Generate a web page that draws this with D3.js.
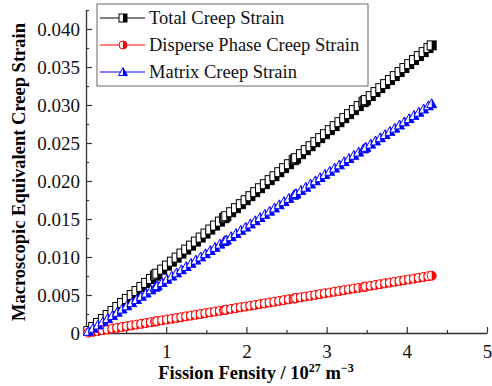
<!DOCTYPE html>
<html>
<head>
<meta charset="utf-8">
<script src="https://cdn.jsdelivr.net/npm/d3@7"></script>
<style>
  body { margin: 0; background: #fff; }
</style>
</head>
<body>
<div id="chart"></div>
<script>
// Fission density (10^27 m^-3)
var fissionDensity = [0.03,0.09,0.15,0.21,0.27,0.33,0.39,0.45,0.51,0.57,0.63,0.69,0.75,0.81,0.86,0.875,0.89,
    0.95,1.01,1.07,1.13,1.19,1.25,1.31,1.37,1.43,1.49,1.55,1.61,1.67,1.72,1.735,1.75,
    1.81,1.87,1.93,1.99,2.05,2.11,2.17,2.23,2.29,2.35,2.41,2.47,2.53,2.59,2.605,2.62,
    2.68,2.74,2.80,2.86,2.92,2.98,3.04,3.10,3.16,3.22,3.28,3.34,3.40,3.46,3.475,3.49,
    3.55,3.61,3.67,3.73,3.79,3.85,3.91,3.97,4.03,4.09,4.15,4.21,4.27,4.31];

var totalStrain = [0.00026,0.00079,0.00132,0.00184,0.00237,0.00290,0.00342,0.00395,0.00448,0.00500,0.00553,0.00606,0.00659,0.00711,0.00755,0.00768,0.00781,
    0.00834,0.00887,0.00939,0.00992,0.01045,0.01098,0.01150,0.01203,0.01256,0.01308,0.01361,0.01414,0.01466,0.01510,0.01523,0.01537,
    0.01589,0.01642,0.01695,0.01747,0.01800,0.01853,0.01905,0.01958,0.02011,0.02063,0.02116,0.02169,0.02221,0.02274,0.02287,0.02300,
    0.02353,0.02406,0.02458,0.02511,0.02564,0.02616,0.02669,0.02722,0.02774,0.02827,0.02880,0.02933,0.02985,0.03038,0.03051,0.03064,
    0.03117,0.03170,0.03222,0.03275,0.03328,0.03380,0.03433,0.03486,0.03538,0.03591,0.03644,0.03696,0.03749,0.03784];

var disperseStrain = [0.00005,0.00016,0.00026,0.00037,0.00047,0.00058,0.00068,0.00079,0.00089,0.00100,0.00110,0.00121,0.00131,0.00142,0.00151,0.00153,0.00156,
    0.00166,0.00177,0.00187,0.00198,0.00208,0.00219,0.00229,0.00240,0.00250,0.00261,0.00271,0.00282,0.00292,0.00301,0.00304,0.00306,
    0.00317,0.00327,0.00338,0.00348,0.00359,0.00369,0.00380,0.00390,0.00401,0.00411,0.00422,0.00432,0.00443,0.00453,0.00456,0.00459,
    0.00469,0.00480,0.00490,0.00501,0.00511,0.00522,0.00532,0.00543,0.00553,0.00564,0.00574,0.00585,0.00595,0.00606,0.00608,0.00611,
    0.00621,0.00632,0.00642,0.00653,0.00663,0.00674,0.00684,0.00695,0.00705,0.00716,0.00726,0.00737,0.00747,0.00754];

var matrixStrain = [0.00021,0.00063,0.00105,0.00147,0.00189,0.00231,0.00273,0.00315,0.00357,0.00399,0.00441,0.00483,0.00525,0.00567,0.00602,0.00613,0.00623,
    0.00665,0.00707,0.00749,0.00791,0.00833,0.00875,0.00917,0.00959,0.01001,0.01043,0.01085,0.01127,0.01169,0.01204,0.01215,0.01225,
    0.01267,0.01309,0.01351,0.01393,0.01435,0.01477,0.01519,0.01561,0.01603,0.01645,0.01687,0.01729,0.01771,0.01813,0.01824,0.01834,
    0.01876,0.01918,0.01960,0.02002,0.02044,0.02086,0.02128,0.02170,0.02212,0.02254,0.02296,0.02338,0.02380,0.02422,0.02433,0.02443,
    0.02485,0.02527,0.02569,0.02611,0.02653,0.02695,0.02737,0.02779,0.02821,0.02863,0.02905,0.02947,0.02989,0.03017];

var seriesNames = ["Total Creep Strain", "Disperse Phase Creep Strain", "Matrix Creep Strain"];
var seriesColors = ["#000000", "#ff0000", "#0000ff"];
var seriesShapes = ["square", "circle", "triangle"];
var xTicks = [1, 2, 3, 4, 5];
var yTicks = [0, 0.005, 0.010, 0.015, 0.020, 0.025, 0.030, 0.035, 0.040];

var FONT = "Liberation Serif";

var series = [totalStrain, disperseStrain, matrixStrain].map(function(vals, i) {
    return {
        name: seriesNames[i], color: seriesColors[i], shape: seriesShapes[i],
        points: vals.map(function(v, j) { return {x: fissionDensity[j], y: v}; })
    };
});

var W = 492, H = 386;
var margin = {top: 10, right: 5, bottom: 53, left: 86};
var width = W - margin.left - margin.right,
    height = H - margin.top - margin.bottom;

var svg = d3.select("#chart").append("svg")
    .attr("width", W).attr("height", H)
    .attr("font-family", FONT);
var g = svg.append("g")
    .attr("transform", "translate(" + margin.left + "," + margin.top + ")");

var x = d3.scaleLinear().domain([0, 5]).range([0, width]);
var y = d3.scaleLinear().domain([0, 0.0425]).range([height, 0]);

// Axes with inward ticks (major + minor)
g.append("g")
    .attr("transform", "translate(0," + height + ")")
    .call(d3.axisBottom(x).tickValues(xTicks).tickSizeInner(-6).tickSizeOuter(0).tickPadding(12)
        .tickFormat(d3.format("d")));
g.append("g")
    .attr("transform", "translate(0," + height + ")")
    .call(d3.axisBottom(x).tickValues(d3.range(0.5, 5, 1)).tickSizeInner(-3).tickSizeOuter(0).tickFormat(""))
    .select(".domain").remove();

g.append("g")
    .call(d3.axisLeft(y).tickValues(yTicks).tickSizeInner(-6).tickSizeOuter(0).tickPadding(6)
        .tickFormat(function(d) { return d === 0 ? "0" : d3.format(".3f")(d); }));
g.append("g")
    .call(d3.axisLeft(y).tickValues(d3.range(0.0025, 0.043, 0.005)).tickSizeInner(-3).tickSizeOuter(0).tickFormat(""))
    .select(".domain").remove();

g.selectAll("g").attr("font-family", FONT).attr("font-size", 19);
g.selectAll(".domain").attr("stroke", "#333").attr("stroke-width", 1.3);
g.selectAll(".tick line").attr("stroke", "#333").attr("stroke-width", 1.2);
g.selectAll(".tick text")
    .attr("font-family", FONT)
    .attr("font-size", 19)
    .attr("fill", "#111");

// Half-filled marker (right half filled)
function drawMarker(sel, shape, color, s) {
    var h = s / 2;
    if (shape === "square") {
        sel.append("rect").attr("x", -h).attr("y", -h).attr("width", s).attr("height", s)
            .attr("fill", "#fff").attr("stroke", color).attr("stroke-width", 1);
        sel.append("rect").attr("x", 0).attr("y", -h).attr("width", h).attr("height", s)
            .attr("fill", color);
    } else if (shape === "circle") {
        sel.append("circle").attr("r", h).attr("fill", "#fff").attr("stroke", color).attr("stroke-width", 1);
        sel.append("path").attr("d", "M0," + (-h) + "A" + h + "," + h + " 0 0 1 0," + h + "Z").attr("fill", color);
    } else {
        var t = h * 1.1;
        sel.append("path").attr("d", "M0," + (-t) + "L" + t + "," + (t * 0.8) + "L" + (-t) + "," + (t * 0.8) + "Z")
            .attr("fill", "#fff").attr("stroke", color).attr("stroke-width", 1);
        sel.append("path").attr("d", "M0," + (-t) + "L" + t + "," + (t * 0.8) + "L0," + (t * 0.8) + "Z")
            .attr("fill", color);
    }
}

var line = d3.line().x(function(d) { return x(d.x); }).y(function(d) { return y(d.y); });

series.forEach(function(s) {
    g.append("path").datum(s.points)
        .attr("d", line).attr("fill", "none").attr("stroke", s.color).attr("stroke-width", 1);
    g.append("g").selectAll("g")
        .data(s.points).enter().append("g")
        .attr("transform", function(d) { return "translate(" + x(d.x) + "," + y(d.y) + ")"; })
        .each(function() { drawMarker(d3.select(this), s.shape, s.color, 9); });
});

// Axis titles
svg.append("text")
    .attr("x", 256).attr("y", 379)
    .attr("text-anchor", "middle")
    .attr("font-family", FONT)
    .attr("font-weight", "bold").attr("font-size", 18.5)
    .html('Fission Fensity / 10<tspan dy="-7" font-size="12">27</tspan><tspan dy="7"> m</tspan><tspan dy="-7" font-size="12">−3</tspan>');

svg.append("text")
    .attr("transform", "translate(25,172) rotate(-90)")
    .attr("text-anchor", "middle")
    .attr("font-family", FONT)
    .attr("font-weight", "bold").attr("font-size", 18.5)
    .text("Macroscopic Equivalent Creep Strain");

// Legend
var legend = svg.append("g");
legend.append("rect")
    .attr("x", 97).attr("y", 4).attr("width", 271).attr("height", 82)
    .attr("fill", "#fff").attr("stroke", "#666").attr("stroke-width", 1);
series.forEach(function(s, i) {
    var cy = 18 + i * 27;
    var row = legend.append("g");
    row.append("line").attr("x1", 100).attr("x2", 145).attr("y1", cy).attr("y2", cy)
        .attr("stroke", s.color).attr("stroke-width", 1);
    drawMarker(row.append("g").attr("transform", "translate(123," + cy + ")"), s.shape, s.color, 8);
    row.append("text").attr("x", 149).attr("y", cy + 6)
        .attr("font-family", FONT)
        .attr("font-size", 18.5).attr("fill", "#111")
        .text(s.name);
});
</script>
</body>
</html>
